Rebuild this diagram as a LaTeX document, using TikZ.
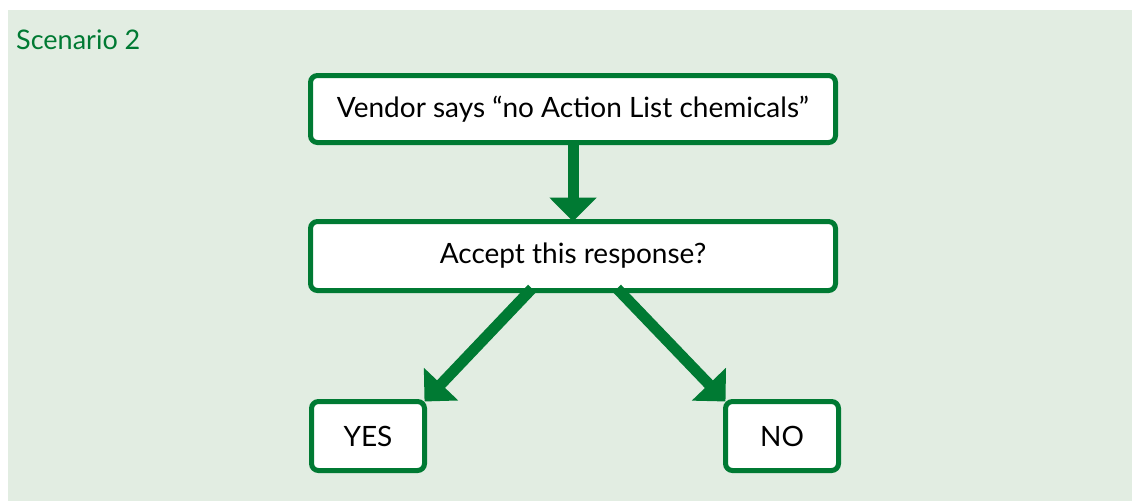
\documentclass[tikz,border=0pt]{standalone}
\usepackage{fontspec}
\setmainfont{Lato}
\usetikzlibrary{arrows.meta}
\definecolor{dgreen}{RGB}{0,122,51}
\definecolor{bggreen}{RGB}{226,237,226}
\begin{document}
\begin{tikzpicture}[x=1pt,y=-1pt,
  box/.style={draw=dgreen, line width=5pt, fill=white, rounded corners=7pt,
    inner sep=0pt, outer sep=0pt, font=\fontsize{28}{32}\selectfont},
  flow/.style={draw=dgreen, line width=11pt, -{Triangle[width=46pt,length=24pt]}}]
\useasboundingbox (0,0) rectangle (1132,501);
\fill[bggreen] (8,10) rectangle (1132,501);
\node[anchor=base west, text=dgreen, inner sep=0pt, font=\fontsize{27}{32}\selectfont] (title) at (16,49) {Scenario 2};
\node[box, minimum width=525pt, minimum height=67pt] (b1) at (573,109) {Vendor says “no Action List chemicals”};
\node[box, minimum width=525pt, minimum height=69pt] (b2) at (573,256) {Accept this response?};
\node[box, minimum width=113pt, minimum height=69pt] (yes) at (368,436) {YES};
\node[box, minimum width=113pt, minimum height=69pt] (no) at (782,436) {NO};
\draw[flow] (b1.south) -- (b2.north);
\draw[flow] ([xshift=-41pt,yshift=2pt]b2.south) -- (yes.north east);
\draw[flow] ([xshift=44pt,yshift=2pt]b2.south) -- (no.north west);
\end{tikzpicture}
\end{document}
